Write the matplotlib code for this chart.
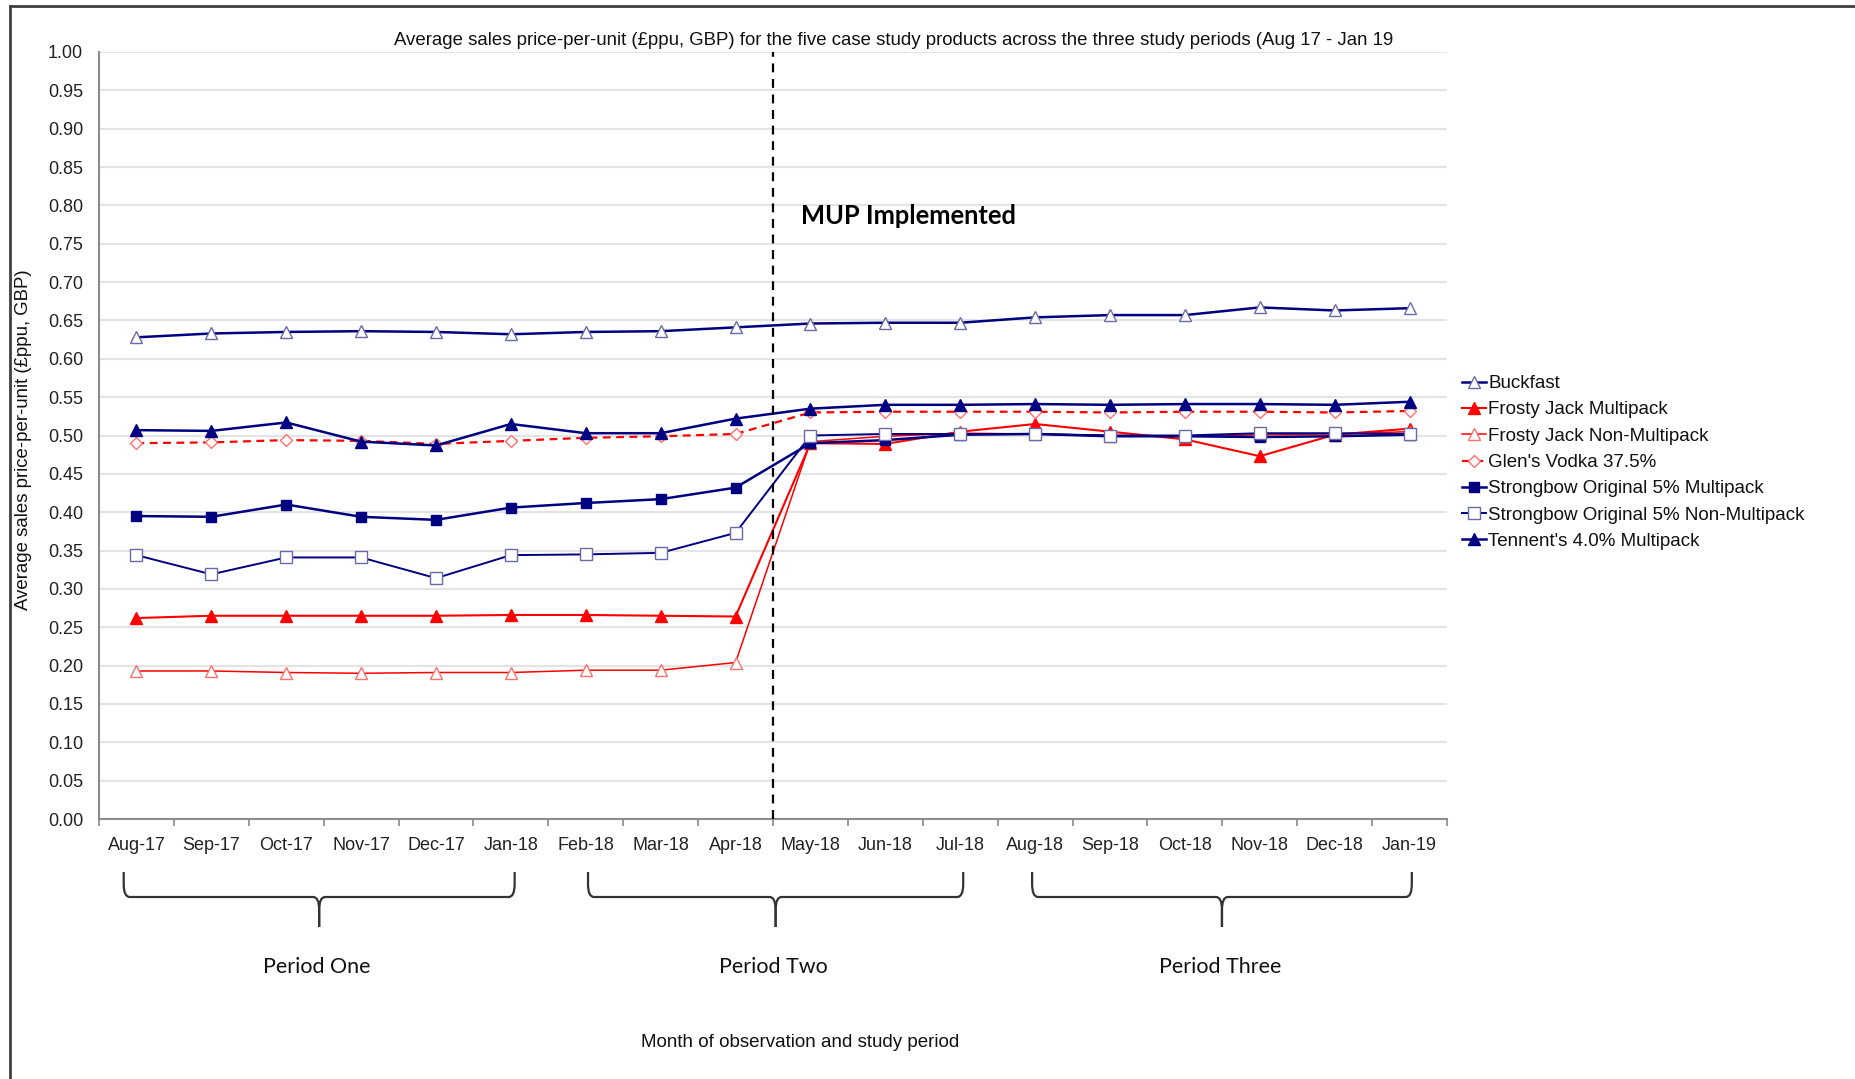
import matplotlib
matplotlib.use("Agg")
import matplotlib.pyplot as plt
import matplotlib.transforms as mtransforms
from matplotlib.path import Path
from matplotlib.patches import PathPatch
from matplotlib.lines import Line2D

plt.rcParams['font.family'] = ['Liberation Sans', 'DejaVu Sans']

# ---------------- data ----------------
months = ["Aug-17", "Sep-17", "Oct-17", "Nov-17", "Dec-17", "Jan-18", "Feb-18", "Mar-18", "Apr-18",
          "May-18", "Jun-18", "Jul-18", "Aug-18", "Sep-18", "Oct-18", "Nov-18", "Dec-18", "Jan-19"]

buckfast = [0.628, 0.633, 0.635, 0.636, 0.635, 0.632, 0.635, 0.636, 0.641,
            0.646, 0.647, 0.647, 0.654, 0.657, 0.657, 0.667, 0.663, 0.666]
frosty_multi = [0.262, 0.265, 0.265, 0.265, 0.265, 0.266, 0.266, 0.265, 0.264,
                0.490, 0.489, 0.505, 0.515, 0.505, 0.495, 0.473, 0.501, 0.509]
frosty_non = [0.193, 0.193, 0.191, 0.190, 0.191, 0.191, 0.194, 0.194, 0.204,
              0.492, 0.499, 0.503, 0.502, 0.500, 0.499, 0.501, 0.502, 0.505]
glens = [0.490, 0.491, 0.494, 0.493, 0.489, 0.493, 0.497, 0.499, 0.502,
         0.530, 0.531, 0.531, 0.531, 0.530, 0.531, 0.531, 0.530, 0.532]
sb_multi = [0.395, 0.394, 0.410, 0.394, 0.390, 0.406, 0.412, 0.417, 0.432,
            0.490, 0.494, 0.501, 0.502, 0.499, 0.499, 0.498, 0.499, 0.501]
sb_non = [0.344, 0.319, 0.341, 0.341, 0.314, 0.344, 0.345, 0.347, 0.373,
          0.500, 0.502, 0.502, 0.502, 0.500, 0.500, 0.503, 0.503, 0.502]
tennents = [0.507, 0.506, 0.517, 0.492, 0.487, 0.515, 0.503, 0.503, 0.522,
            0.535, 0.540, 0.540, 0.541, 0.540, 0.541, 0.541, 0.540, 0.544]

series_names = ["Buckfast", "Frosty Jack Multipack", "Frosty Jack Non-Multipack", "Glen's Vodka 37.5%",
                "Strongbow Original 5% Multipack", "Strongbow Original 5% Non-Multipack",
                "Tennent's 4.0% Multipack"]

yticks = [0.00, 0.05, 0.10, 0.15, 0.20, 0.25, 0.30, 0.35, 0.40, 0.45, 0.50,
          0.55, 0.60, 0.65, 0.70, 0.75, 0.80, 0.85, 0.90, 0.95, 1.00]

# period groups: (label, first month index, last month index)
periods = [("Period One", 0, 5), ("Period Two", 6, 11), ("Period Three", 12, 17)]
mup_index = 8  # last month before MUP (line drawn after it)

title = "Average sales price-per-unit (£ppu, GBP) for the five case study products across the three study periods (Aug 17 - Jan 19"
ylabel = "Average sales price-per-unit (£ppu, GBP)"
xlabel = "Month of observation and study period"

# ---------------- figure ----------------
W, H = 1856, 1079
fig = plt.figure(figsize=(W / 100, H / 100), dpi=100)
ax = fig.add_axes([99 / W, 1 - 819 / H, (1447 - 99) / W, (819 - 52) / H])

x = list(range(len(months)))
navy = "#000080"
red = "#FF0000"

styles = [
    dict(data=buckfast, color=navy, lw=1.8, marker="^", ms=8.5, mfc="white", mec="#6A6AA8", mew=1.0, ls="-"),
    dict(data=frosty_multi, color=red, lw=1.5, marker="^", ms=8.0, mfc=red, mec=red, mew=1.0, ls="-"),
    dict(data=frosty_non, color=red, lw=1.1, marker="^", ms=8.5, mfc="white", mec="#FF7070", mew=1.0, ls="-"),
    dict(data=glens, color=red, lw=1.6, marker="D", ms=6.0, mfc="white", mec="#FF7070", mew=1.0, ls=(0, (3.5, 2.5))),
    dict(data=sb_multi, color=navy, lw=1.8, marker="s", ms=7.5, mfc=navy, mec=navy, mew=1.0, ls="-"),
    dict(data=sb_non, color=navy, lw=1.4, marker="s", ms=8.0, mfc="white", mec="#6A6AA8", mew=1.0, ls="-"),
    dict(data=tennents, color=navy, lw=1.8, marker="^", ms=8.5, mfc=navy, mec=navy, mew=1.0, ls="-"),
]

handles = []
for i, (name, st) in enumerate(zip(series_names, styles)):
    ln, = ax.plot(x, st["data"], color=st["color"], lw=st["lw"], ls=st["ls"],
                  marker=st["marker"], ms=st["ms"], mfc=st["mfc"], mec=st["mec"], mew=st["mew"],
                  label=name, zorder=3 + i, clip_on=False)
    handles.append(ln)

ax.set_xlim(-0.5, len(months) - 0.5)
ax.set_ylim(0, 1.0)
ax.set_yticks(yticks)
ax.set_yticklabels([f"{v:.2f}" for v in yticks])
ax.set_xticks(x)
ax.set_xticklabels(months)
ax.set_xticks([i - 0.5 for i in range(len(months) + 1)], minor=True)
ax.tick_params(axis="x", which="major", length=0, pad=13, labelsize=13, colors="#222222")
ax.tick_params(axis="x", which="minor", length=5, width=1.2, color="#888888", direction="out")
ax.tick_params(axis="y", which="major", length=0, pad=11.5, labelsize=13, colors="#222222")
ax.grid(axis="y", color="#E4E4E4", lw=1.5, zorder=0)
ax.set_axisbelow(True)
for s in ["top", "right"]:
    ax.spines[s].set_visible(False)
for s in ["left", "bottom"]:
    ax.spines[s].set_color("#8C8C8C")
    ax.spines[s].set_linewidth(1.5)

# MUP vertical dashed line
ax.axvline(mup_index + 0.5, color="black", lw=1.6, ls=(0, (4, 3)), zorder=20)
ax.text(mup_index + 0.88, 0.786, "MUP Implemented", fontsize=18.4, fontweight="bold",
        family=["Lato", "DejaVu Sans"], ha="left", va="center", color="black")

# Title and labels
fig.text(894 / W, 1 - 40.5 / H, title, ha="center", va="center", fontsize=13.4, color="#111111")
fig.text(24 / W, 1 - 440 / H, ylabel, ha="center", va="center", rotation=90, fontsize=13.4, color="#111111")
fig.text(800 / W, 1 - 1042.5 / H, xlabel, ha="center", va="center", fontsize=13.5, color="#111111")

# Legend
leg = fig.legend(handles=handles, labels=series_names, loc="upper left",
                 bbox_to_anchor=(1462 / W, 1 - 375 / H), frameon=False, fontsize=13.5,
                 handlelength=1.3, handletextpad=0.1, labelspacing=0.49, borderpad=0,
                 borderaxespad=0, numpoints=1)
for t in leg.get_texts():
    t.set_color("#111111")

# Period brackets (x in data coords, y in figure fraction)
bracket_offsets = [(-0.17, 0.05), (0.03, 0.04), (-0.04, 0.03)]
btr = mtransforms.blended_transform_factory(ax.transData, fig.transFigure)
y_top = 1 - 872 / H
y_h = 1 - 897 / H
y_tip = 1 - 927 / H
r = 0.012  # vertical rounding (fig fraction)
for (label, i0, i1), (o0, o1) in zip(periods, bracket_offsets):
    xa = i0 + o0
    xb = i1 + o1
    xc = (xa + xb) / 2
    dx = 0.08
    codes = [Path.MOVETO, Path.LINETO, Path.CURVE3, Path.CURVE3,
             Path.LINETO, Path.CURVE3, Path.CURVE3, Path.LINETO]
    for xe, sgn in ((xa, 1), (xb, -1)):
        verts = [
            (xe, y_top), (xe, y_h + r), (xe, y_h), (xe + sgn * dx, y_h),
            (xc - sgn * dx, y_h), (xc, y_h), (xc, y_h - r), (xc, y_tip),
        ]
        p = PathPatch(Path(verts, codes), transform=btr, fill=False, lw=1.6,
                      edgecolor="#333333", clip_on=False)
        fig.add_artist(p)
    t = fig.text(0, 1 - 967 / H, label, ha="center", va="center", fontsize=15.5,
                 family=["Lato", "DejaVu Sans"], color="#111111", transform=btr)
    t.set_x(xc - 0.03)

# Figure border (top and left)
fig.add_artist(Line2D([10 / W, 10 / W], [0, 1 - 6 / H], transform=fig.transFigure,
                      color="#404040", lw=2.0))
fig.add_artist(Line2D([10 / W, 1], [1 - 6 / H, 1 - 6 / H], transform=fig.transFigure,
                      color="#404040", lw=2.0))

fig.savefig("out.png", dpi=100, facecolor="white")
